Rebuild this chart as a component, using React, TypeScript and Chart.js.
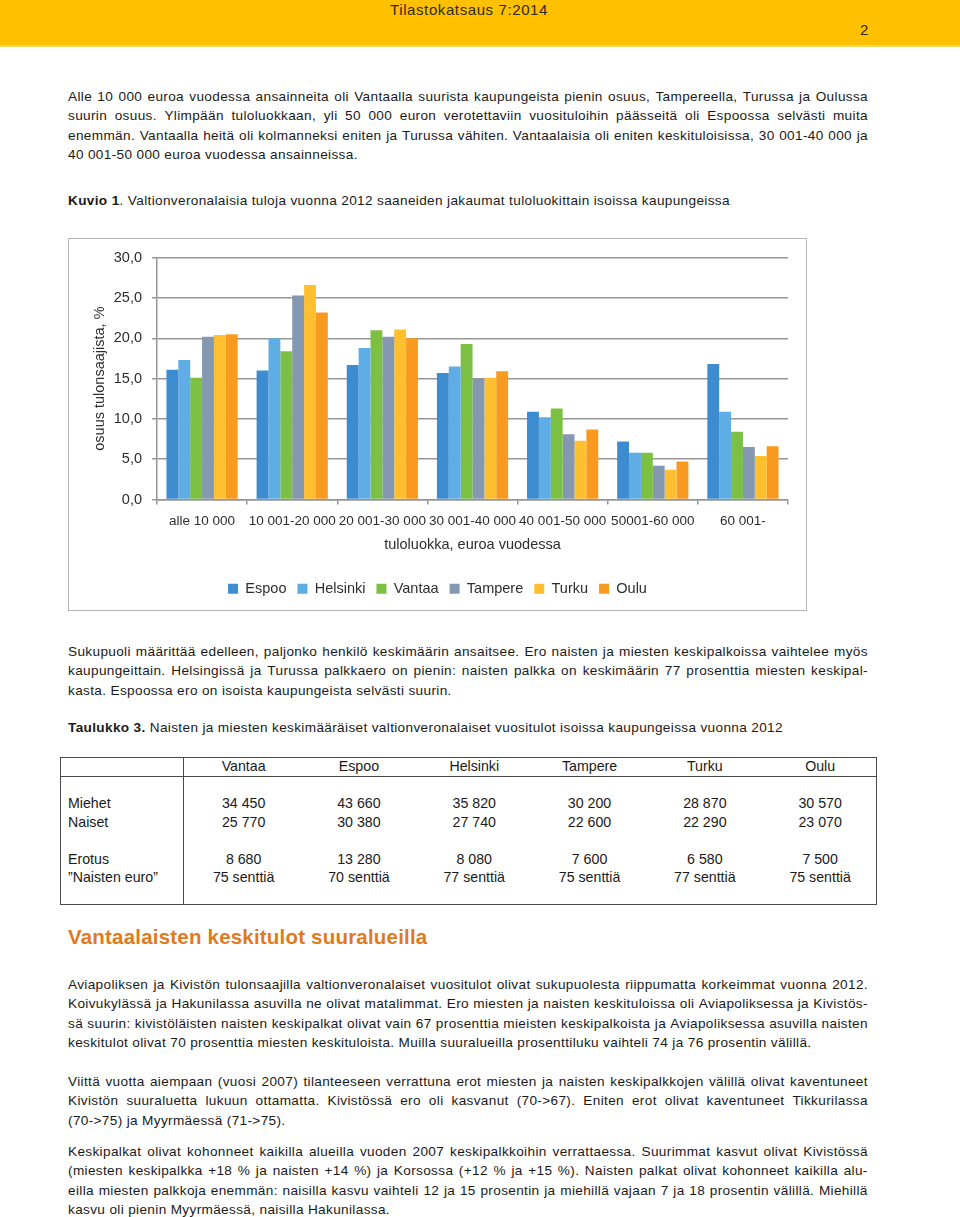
import React, { useEffect, useRef } from 'react';
import { Chart, registerables } from 'chart.js';

Chart.register(...registerables);

const FONT = '"Liberation Sans", Arial, Helvetica, sans-serif';

// ---------- chart data ----------
const categories = ['alle 10 000', '10 001-20 000', '20 001-30 000', '30 001-40 000', '40 001-50 000', '50001-60 000', '60 001-'];
const seriesNames = ['Espoo', 'Helsinki', 'Vantaa', 'Tampere', 'Turku', 'Oulu'];
const seriesColors = ['#3D8CD0', '#5EAEE5', '#7CC043', '#8598B1', '#FFBF2F', '#F89A1F'];
const espoo = [16.1, 16.0, 16.7, 15.7, 10.9, 7.2, 16.8];
const helsinki = [17.3, 20.0, 18.8, 16.5, 10.2, 5.8, 10.9];
const vantaa = [15.1, 18.4, 21.0, 19.3, 11.3, 5.8, 8.4];
const tampere = [20.2, 25.3, 20.2, 15.0, 8.1, 4.2, 6.5];
const turku = [20.4, 26.6, 21.1, 15.1, 7.3, 3.7, 5.4];
const oulu = [20.5, 23.2, 20.0, 15.9, 8.7, 4.7, 6.6];
const seriesData = [espoo, helsinki, vantaa, tampere, turku, oulu];
const yAxisTitle = 'osuus tulonsaajista, %';
const xAxisTitle = 'tuloluokka, euroa vuodessa';

// ---------- table data ----------
const tableCities = ['Vantaa', 'Espoo', 'Helsinki', 'Tampere', 'Turku', 'Oulu'];
const miehet = ['34 450', '43 660', '35 820', '30 200', '28 870', '30 570'];
const naiset = ['25 770', '30 380', '27 740', '22 600', '22 290', '23 070'];
const erotus = ['8 680', '13 280', '8 080', '7 600', '6 580', '7 500'];
const naistenEuro = ['75 senttiä', '70 senttiä', '77 senttiä', '75 senttiä', '77 senttiä', '75 senttiä'];

// ---------- text ----------
const para1 = [
  'Alle 10 000 euroa vuodessa ansainneita oli Vantaalla suurista kaupungeista pienin osuus, Tampereella, Turussa ja Oulussa',
  'suurin osuus. Ylimpään tuloluokkaan, yli 50 000 euron verotettaviin vuosituloihin päässeitä oli Espoossa selvästi muita',
  'enemmän. Vantaalla heitä oli kolmanneksi eniten ja Turussa vähiten. Vantaalaisia oli eniten keskituloisissa, 30 001-40 000 ja',
  '40 001-50 000 euroa vuodessa ansainneissa.',
];
const para2 = [
  'Sukupuoli määrittää edelleen, paljonko henkilö keskimäärin ansaitsee. Ero naisten ja miesten keskipalkoissa vaihtelee myös',
  'kaupungeittain. Helsingissä ja Turussa palkkaero on pienin: naisten palkka on keskimäärin 77 prosenttia miesten keskipal-',
  'kasta. Espoossa ero on isoista kaupungeista selvästi suurin.',
];
const para3 = [
  'Aviapoliksen ja Kivistön tulonsaajilla valtionveronalaiset vuositulot olivat sukupuolesta riippumatta korkeimmat vuonna 2012.',
  'Koivukylässä ja Hakunilassa asuvilla ne olivat matalimmat. Ero miesten ja naisten keskituloissa oli Aviapoliksessa ja Kivistös-',
  'sä suurin: kivistöläisten naisten keskipalkat olivat vain 67 prosenttia mieisten keskipalkoista ja Aviapoliksessa asuvilla naisten',
  'keskitulot olivat 70 prosenttia miesten keskituloista. Muilla suuralueilla prosenttiluku vaihteli 74 ja 76 prosentin välillä.',
];
const para4 = [
  'Viittä vuotta aiempaan (vuosi 2007) tilanteeseen verrattuna erot miesten ja naisten keskipalkkojen välillä olivat kaventuneet',
  'Kivistön suuraluetta lukuun ottamatta. Kivistössä ero oli kasvanut (70->67). Eniten erot olivat kaventuneet Tikkurilassa',
  '(70->75) ja Myyrmäessä (71->75).',
];
const para5 = [
  'Keskipalkat olivat kohonneet kaikilla alueilla vuoden 2007 keskipalkkoihin verrattaessa. Suurimmat kasvut olivat Kivistössä',
  '(miesten keskipalkka +18 % ja naisten +14 %) ja Korsossa (+12 % ja +15 %). Naisten palkat olivat kohonneet kaikilla alu-',
  'eilla miesten palkkoja enemmän: naisilla kasvu vaihteli 12 ja 15 prosentin ja miehillä vajaan 7 ja 18 prosentin välillä. Miehillä',
  'kasvu oli pienin Myyrmäessä, naisilla Hakunilassa.',
];

const TEXT_COLOR = '#1a1a1a';
const BODY_SIZE = 13.6;
const BODY_LS = '0.35px';
const LINE_H = 19.6;

function Line({ text, justify }: { text: string; justify: boolean }) {
  if (!justify) {
    return <div style={{ whiteSpace: 'nowrap', height: LINE_H }}>{text}</div>;
  }
  const words = text.split(' ');
  return (
    <div style={{ display: 'flex', justifyContent: 'space-between', whiteSpace: 'nowrap', height: LINE_H }}>
      {words.map((w, i) => (
        <span key={i}>{w}</span>
      ))}
    </div>
  );
}

function Para({ top, lines }: { top: number; lines: string[] }) {
  return (
    <div
      style={{
        position: 'absolute',
        left: 68,
        top,
        width: 800,
        fontSize: BODY_SIZE,
        letterSpacing: BODY_LS,
        lineHeight: LINE_H + 'px',
        color: TEXT_COLOR,
      }}
    >
      {lines.map((l, i) => (
        <Line key={i} text={l} justify={i < lines.length - 1} />
      ))}
    </div>
  );
}

function BarChart() {
  const ref = useRef<HTMLCanvasElement | null>(null);
  useEffect(() => {
    if (!ref.current) return;
    Chart.defaults.font.family = FONT;
    const axisColor = '#969696';
    const labelColor = '#2e2e2e';
    const chart = new Chart(ref.current, {
      type: 'bar',
      data: {
        labels: categories,
        datasets: seriesNames.map((name, i) => ({
          label: name,
          data: seriesData[i],
          backgroundColor: seriesColors[i],
          borderWidth: 0,
          barPercentage: 1,
          categoryPercentage: 0.79,
        })),
      },
      options: {
        animation: false,
        responsive: true,
        maintainAspectRatio: false,
        layout: { padding: { left: 0, top: 17, right: 0, bottom: 4 } },
        plugins: {
          legend: {
            position: 'bottom',
            labels: {
              boxWidth: 10,
              boxHeight: 10,
              padding: 11,
              color: labelColor,
              font: { size: 14.5, family: FONT },
            },
          },
          tooltip: { enabled: false },
        },
        scales: {
          x: {
            offset: true,
            grid: {
              display: true,
              drawOnChartArea: false,
              drawTicks: true,
              tickLength: 5,
              color: axisColor,
              lineWidth: 1.5,
              offset: true,
            },
            border: { color: axisColor, width: 1.5 },
            ticks: {
              color: labelColor,
              font: { size: 13.5, family: FONT },
              padding: 9,
              maxRotation: 0,
              autoSkip: false,
            },
            title: {
              display: true,
              text: xAxisTitle,
              color: labelColor,
              font: { size: 14.5, family: FONT },
              padding: { top: 0, bottom: 17 },
            },
            afterFit: (s: any) => {
              s.height = 71;
            },
          },
          y: {
            min: 0,
            max: 30,
            ticks: {
              stepSize: 5,
              color: labelColor,
              font: { size: 14.5, family: FONT },
              padding: 10,
              callback: (v: any) => Number(v).toFixed(1).replace('.', ','),
            },
            grid: {
              color: axisColor,
              lineWidth: 1.5,
              drawTicks: true,
              tickLength: 5,
            },
            border: { color: axisColor, width: 1.5 },
            title: {
              display: true,
              text: yAxisTitle,
              color: labelColor,
              font: { size: 14.5, family: FONT },
              padding: { top: 22, bottom: 0 },
            },
            afterFit: (s: any) => {
              s.width = 88;
            },
          },
          yRight: {
            position: 'right',
            display: true,
            min: 0,
            max: 30,
            grid: { display: false },
            border: { display: false },
            ticks: { display: false },
            afterFit: (s: any) => {
              s.width = 18;
            },
          },
        },
      },
    });
    return () => chart.destroy();
  }, []);
  return (
    <div
      style={{
        position: 'absolute',
        left: 68,
        top: 238,
        width: 739,
        height: 373,
        border: '1px solid #b5b5b5',
        boxSizing: 'border-box',
        background: '#fff',
      }}
    >
      <div style={{ position: 'relative', width: 737, height: 371 }}>
        <canvas ref={ref} />
      </div>
    </div>
  );
}

function Table() {
  const left = 60;
  const right = 877;
  const top = 757;
  const bottom = 905;
  const divX = 183;
  const colStart = 186;
  const colW = 115.3;
  const lineColor = '#4a4a4a';
  const rows: { label: string; values: string[]; y: number }[] = [
    { label: 'Miehet', values: miehet, y: 803 },
    { label: 'Naiset', values: naiset, y: 822 },
    { label: 'Erotus', values: erotus, y: 859 },
    { label: '”Naisten euro”', values: naistenEuro, y: 877 },
  ];
  const cellStyle = (cx: number, cy: number): React.CSSProperties => ({
    position: 'absolute',
    left: cx - 60,
    width: 120,
    top: cy - 9,
    height: 18,
    lineHeight: '18px',
    textAlign: 'center',
    whiteSpace: 'nowrap',
  });
  return (
    <div style={{ position: 'absolute', left: 0, top: 0, fontSize: 14.2, color: TEXT_COLOR }}>
      <div
        style={{
          position: 'absolute',
          left,
          top,
          width: right - left,
          height: bottom - top,
          border: `1px solid ${lineColor}`,
          boxSizing: 'border-box',
        }}
      />
      <div style={{ position: 'absolute', left, top: 776, width: right - left, height: 1, background: lineColor }} />
      <div style={{ position: 'absolute', left: divX, top, width: 1, height: bottom - top, background: lineColor }} />
      {tableCities.map((c, i) => (
        <div key={c} style={cellStyle(colStart + colW * i + colW / 2, 766)}>
          {c}
        </div>
      ))}
      {rows.map((r) => (
        <React.Fragment key={r.label}>
          <div style={{ position: 'absolute', left: 68, top: r.y - 9, height: 18, lineHeight: '18px', whiteSpace: 'nowrap' }}>
            {r.label}
          </div>
          {r.values.map((v, i) => (
            <div key={i} style={cellStyle(colStart + colW * i + colW / 2, r.y)}>
              {v}
            </div>
          ))}
        </React.Fragment>
      ))}
    </div>
  );
}

export default function App() {
  return (
    <div
      style={{
        position: 'absolute',
        left: 0,
        top: 0,
        width: 960,
        height: 1217,
        overflow: 'hidden',
        background: '#ffffff',
        fontFamily: FONT,
        color: TEXT_COLOR,
      }}
    >
      {/* header bar */}
      <div style={{ position: 'absolute', left: 0, top: 0, width: 960, height: 45, background: '#FFC000' }} />
      <div style={{ position: 'absolute', left: 0, top: 45, width: 960, height: 2, background: '#FFD75E' }} />
      <div
        style={{
          position: 'absolute',
          left: 390,
          top: 1,
          fontSize: 15,
          letterSpacing: '0.6px',
          lineHeight: '18px',
          color: '#2e2a1e',
          whiteSpace: 'nowrap',
        }}
      >
        Tilastokatsaus 7:2014
      </div>
      <div style={{ position: 'absolute', left: 860, top: 21, fontSize: 15, lineHeight: '18px', color: '#2e2a1e' }}>2</div>

      <Para top={86.5} lines={para1} />

      <div
        style={{
          position: 'absolute',
          left: 68,
          top: 190.5,
          fontSize: BODY_SIZE,
          letterSpacing: BODY_LS,
          lineHeight: LINE_H + 'px',
          whiteSpace: 'nowrap',
        }}
      >
        <b>Kuvio 1</b>. Valtionveronalaisia tuloja vuonna 2012 saaneiden jakaumat tuloluokittain isoissa kaupungeissa
      </div>

      <BarChart />

      <Para top={641.5} lines={para2} />

      <div
        style={{
          position: 'absolute',
          left: 68,
          top: 717.5,
          fontSize: BODY_SIZE,
          letterSpacing: BODY_LS,
          lineHeight: LINE_H + 'px',
          whiteSpace: 'nowrap',
        }}
      >
        <b>Taulukko 3.</b> Naisten ja miesten keskimääräiset valtionveronalaiset vuositulot isoissa kaupungeissa vuonna 2012
      </div>

      <Table />

      <div
        style={{
          position: 'absolute',
          left: 68,
          top: 925,
          fontSize: 20.5,
          letterSpacing: '0.2px',
          lineHeight: '24px',
          fontWeight: 'bold',
          color: '#E07A1F',
          whiteSpace: 'nowrap',
        }}
      >
        Vantaalaisten keskitulot suuralueilla
      </div>

      <Para top={974.5} lines={para3} />
      <Para top={1071.5} lines={para4} />
      <Para top={1141.5} lines={para5} />
    </div>
  );
}
